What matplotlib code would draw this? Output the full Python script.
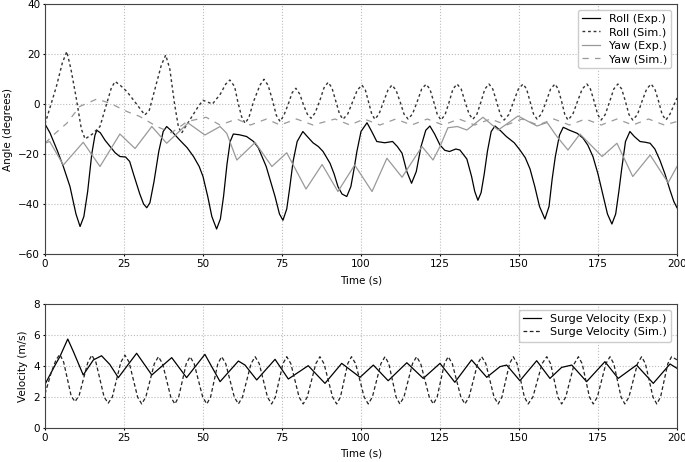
import numpy as np
import matplotlib
matplotlib.use("Agg")
import matplotlib.pyplot as plt

# Roll (Exp.)
t_roll_exp = [0, 1.6, 4, 5.8, 7.9, 9.8, 11.1, 12.3, 13.5, 14.8, 15.8, 16.4, 17.5, 19, 20.6, 22.2, 23.7, 25.5,
              26.8, 28, 30, 31.2, 32.2, 33.2, 34.5, 36, 37.4, 38.5, 39.8, 42.7, 45, 47, 48.8, 50, 51.5, 52.8,
              54.3, 55.5, 56.5, 57.6, 58.6, 59.6, 61.5, 63.8, 66, 67.5, 70, 72.8, 74.2, 75.3, 76.5, 77.5,
              78.5, 79.8, 81.6, 83, 84.8, 86.5, 88, 90.2, 91.5, 92.7, 94, 95.5, 96.8, 97.8, 98.7, 100,
              101.9, 103.4, 105, 107.5, 110, 111.5, 113, 114.5, 116, 117.5, 119, 120.5, 121.8, 123.3, 125,
              126.5, 128, 130, 131.3, 133.5, 135, 136, 137, 138, 139, 140, 141.2, 142.4, 144, 146, 148.5,
              150.3, 152, 153.5, 155, 156.5, 158.2, 159.5, 160.5, 161.5, 162.8, 164, 166, 168.4, 170.3,
              171.8, 173.4, 175, 176.5, 178, 179.4, 180.6, 181.6, 182.5, 183.7, 185.1, 186.5, 188.3, 190,
              191.5, 193, 194.6, 196.2, 197.8, 199, 200]
roll_exp = [-8, -11.6, -19, -25, -33, -44, -49, -45, -35, -20, -12.5, -10.5, -11.5, -14.5, -17, -19.5, -21, -21.2,
            -23, -28, -36, -40, -41.5, -39.5, -31, -19, -11, -9, -10.5, -14.5, -17.5, -21, -25, -29, -37, -45,
            -50, -46, -37, -24, -15, -12, -12.3, -13, -15, -17.5, -25, -37, -44, -46.5, -42, -33,
            -23, -15, -11, -13, -15.5, -17, -19, -23.7, -28, -33, -36, -37, -33, -26, -19, -11,
            -7.5, -11, -15, -15.5, -15, -17, -19.7, -27, -31.7, -27, -17, -10.5, -8.8, -12, -16.4,
            -18.5, -19, -18, -18.4, -22, -29, -35, -38.5, -35.5, -28, -19, -11, -8.8, -10.5, -13, -15.5,
            -18.4, -21.5, -26, -33, -41, -46, -41, -30, -21, -12.5, -9.3, -10.5, -11.7, -13.7,
            -16.5, -21, -28, -36, -44, -48, -44, -35, -26, -15, -11, -13, -15, -15.3,
            -15.7, -18, -22.5, -28, -34.5, -39, -41.5]

# Roll (Sim.)
t_roll_sim = [0, 3.6, 5.5, 6.9, 8.2, 9.8, 11.5, 12.7, 15, 17.4, 19.5, 21, 22.2, 23.8, 25.9, 28, 31.6, 33, 35,
              36.8, 38.2, 39.5, 41, 42.2, 43.2, 44.5, 46.5, 48.5, 50, 53, 55.5, 57.2, 58.5, 60, 61, 62.2,
              63.3, 64.5, 66, 68, 69.3, 70.6, 72, 73.2, 74.4, 75.6, 77, 78.2, 79.4, 80.6, 82, 83, 84.2,
              85.5, 87, 88.3, 89.6, 90.8, 92, 93.2, 94.3, 95.8, 97.3, 98.8, 100.3, 101.4, 102.4, 103.4,
              104.4, 105.7, 107.1, 108.5, 109.8, 111.1, 112.4, 113.6, 114.9, 116.3, 117.8, 119.2, 120.6,
              121.8, 123, 124.1, 125.3, 126.6, 127.9, 129.1, 130.4, 131.7, 132.9, 134.2, 135.4, 136.7,
              138, 139.2, 140.5, 141.7, 142.9, 144.1, 145.3, 146.8, 148.3, 149.8, 151.3, 152.4, 153.5,
              154.6, 155.7, 157.1, 158.6, 160, 161.4, 162.4, 163.5, 164.5, 165.5, 167, 168.5, 170, 171.5,
              172.6, 173.8, 174.9, 176, 177.3, 178.7, 180, 181.3, 182.5, 183.7, 184.8, 186, 187.5, 188.9,
              190.4, 191.8, 193, 194.2, 195.3, 196.5, 197.8, 199, 200]
roll_sim = [-8, 7, 16.5, 21, 14, 3, -10, -14, -12, -9, 0, 6.5, 9, 7.5, 5, 1.6, -4.4, -2.5, 7,
            15.5, 19.6, 14, 0, -9, -11.7, -9, -5, -1, 1.5, 0, 4, 8, 9.6, 7, 1, -5,
            -7.7, -5.5, 1, 7.5, 9.9, 7.5, 1.5, -4.5, -7, -4.5, 0, 4.5, 6.3, 4, -1, -4, -5.7,
            -3.5, 1.5, 6.5, 8.7, 6.5, 1.3, -4, -6.1, -4, 0.8, 5.5, 7.6, 5.5, 0.8, -4,
            -6.1, -4, 0.8, 5.5, 7.6, 5.5, 0.8, -4, -6, -4, 1, 6, 7.9,
            6, 1, -4, -6.4, -4.3, 0.8, 6, 8, 6, 1, -4, -6.1, -4,
            1, 6, 8, 6, 1, -4.2, -6.4, -4.2, 1, 6, 8, 6, 1,
            -4, -6, -4, 1, 6, 8, 6, 1, -4.2, -6.4, -4.2, 1, 6, 8,
            6, 1, -4.2, -6.4, -4.2, 1, 6, 8, 6, 1, -4.2, -6.4, -4.2, 1,
            6, 8, 6, 1, -4.2, -6.4, -4, -0.5, 2.4]

# Yaw (Exp.)
t_yaw_exp = [0, 1.5, 5.8, 12.1, 17.4, 23.7, 28.5, 33.8, 38.5, 45.3, 50.6, 55.4, 57.5, 60.7, 66.5, 71.8, 76.5,
             82.6, 87.7, 92.7, 98, 103.5, 108.2, 113, 119.3, 122.8, 125, 127.5, 130.5, 133.5, 138.6, 143.4,
             149.7, 155.7, 158.9, 162, 165.5, 169.3, 176.3, 181, 186, 191.5, 197.2, 200]
yaw_exp = [-15.7, -15, -24.4, -15.3, -25, -12, -17.8, -9, -15.7, -7.6, -12.4, -9, -11.7, -22.4, -15.4, -25, -19.5,
           -34, -24.2, -35, -24.4, -35, -21.7, -29.3, -17, -22.4, -17, -9.5, -9, -10.4, -5.3, -10.4,
           -4.8, -8.8, -7.4, -13, -18.4, -12, -21, -15.7, -29, -20.4, -31.5, -25]

# Yaw (Sim.)
t_yaw_sim = [0, 3, 6.9, 11, 16.4, 20.6, 25.9, 30, 35.4, 40, 45, 51, 55.4, 60.7, 65, 70.1, 74.4, 79.6, 84.8,
             91.8, 96.5, 101, 106, 111, 116, 121, 126, 131, 136, 141, 146, 151, 156, 161, 166, 171, 176,
             181, 186, 191, 196, 200]
yaw_sim = [-15.7, -12, -7.7, -1, 2, 0.3, -3, -5, -9, -11.5, -7, -5.3, -8.4, -6, -8.4, -6, -8.4, -6, -8.4,
           -6, -8.4, -6, -8.4, -6, -8.4, -6, -8.4, -6, -8.4, -6, -8.4, -6, -8.4, -6, -8.4, -6, -8.4,
           -6, -8.4, -6, -8.4, -7]

# Surge Velocity (Exp.)
t_surge_exp = [0, 3.2, 4.7, 7.2, 9, 12.1, 15.3, 17.9, 20.5, 23.2, 29, 33.8, 40.1, 44.8, 50.6, 55.4, 61.2, 63.3,
               67, 72.8, 77, 83.3, 88.6, 93.9, 99.7, 103.9, 108.6, 114.5, 119.7, 125, 129.7, 135, 139.8,
               144, 146.1, 150.3, 155.6, 159.8, 163.5, 166.7, 171.4, 177.2, 181.4, 187.2, 192.5, 197.8, 200]
surge_exp = [2.82, 4.06, 4.6, 5.74, 4.92, 3.42, 4.39, 4.66, 4.1, 3.25, 4.82, 3.42, 4.54, 3.25, 4.75, 2.99, 4.32, 4.06,
             3.1, 4.43, 3.16, 4.02, 2.88, 4.17, 3.27, 4.06, 3.05, 4.21, 3.2, 4.17, 2.95, 4.39, 3.27,
             3.96, 4.06, 3.05, 4.34, 3.2, 3.91, 4.06, 2.99, 4.28, 3.2, 4.06, 2.88, 4.13, 3.85]

# Surge Velocity (Sim.)
t_surge_sim = [0, 2, 3.5, 4.7, 5.9, 8.3, 9.5, 10.8, 13.5, 14.8, 16.1, 18.7, 20, 21.3, 24, 25.3, 26.6, 29.3,
               30.6, 31.9, 34.6, 35.9, 37.2, 39.8, 41.1, 42.3, 44.7, 45.9, 47.2, 49.9, 51.2, 52.4, 54.7,
               55.9, 57.2, 59.9, 61.2, 62.5, 65.2, 66.5, 67.8, 70.4, 71.7, 72.9, 75.3, 76.5, 77.8, 80.4,
               81.7, 83, 85.7, 87, 88.3, 91, 92.3, 93.5, 95.8, 97, 98.3, 101, 102.3, 103.6, 106.3, 107.6,
               108.8, 111.1, 112.3, 113.6, 116.3, 117.6, 118.9, 121.6, 122.9, 124.1, 126.4, 127.6, 128.9,
               131.6, 132.9, 134.2, 136.9, 138.2, 139.5, 142.1, 143.4, 144.6, 147, 148.2, 149.4, 151.7,
               152.9, 154.4, 157.3, 158.8, 160, 162.3, 163.5, 164.8, 167.5, 168.8, 170, 172.3, 173.5,
               174.8, 177.5, 178.8, 180, 182.3, 183.5, 184.8, 187.5, 188.8, 190, 192.4, 193.6, 194.8,
               197.1, 198.3, 200]
surge_sim = [2.2, 3.6, 4.4, 4.75, 4.25, 2.05, 1.7, 2.1, 4.2, 4.7, 4.25, 2.0, 1.6, 2.0, 4.25, 4.7, 4.25, 2.0,
             1.55, 2.0, 4.15, 4.6, 4.15, 2.0, 1.55, 2.0, 4.15, 4.6, 4.15, 2.0, 1.55, 2.0, 4.15,
             4.6, 4.15, 2.0, 1.55, 2.0, 4.15, 4.6, 4.15, 2.0, 1.55, 2.0, 4.15, 4.6, 4.15, 2.0,
             1.55, 2.0, 4.15, 4.6, 4.15, 2.0, 1.55, 2.0, 4.15, 4.6, 4.15, 2.0, 1.55, 2.0, 4.15, 4.6,
             4.15, 2.0, 1.55, 2.0, 4.15, 4.6, 4.15, 2.0, 1.55, 2.0, 4.15, 4.6, 4.15,
             2.0, 1.55, 2.0, 4.15, 4.6, 4.15, 2.0, 1.55, 2.0, 4.15, 4.6, 4.15, 2.0,
             1.55, 2.0, 4.15, 4.6, 4.15, 2.0, 1.55, 2.0, 4.15, 4.6, 4.15, 2.0, 1.55,
             2.0, 4.15, 4.6, 4.15, 2.0, 1.55, 2.0, 4.15, 4.6, 4.15, 2.0, 1.55, 2.0,
             4.15, 4.6, 4.4]

plt.rcParams['font.size'] = 7.5

fig = plt.figure(figsize=(6.85, 4.62), dpi=100)
ax1 = fig.add_axes([0.0657, 0.4502, 0.9226, 0.5411])
ax2 = fig.add_axes([0.0657, 0.0736, 0.9226, 0.2684])

ax1.plot(t_roll_exp, roll_exp, color='black', lw=0.9, label='Roll (Exp.)')
ax1.plot(t_roll_sim, roll_sim, color='#333333', lw=1.0, linestyle=(0, (2, 2)), label='Roll (Sim.)')
ax1.plot(t_yaw_exp, yaw_exp, color='#999999', lw=0.9, label='Yaw (Exp.)')
ax1.plot(t_yaw_sim, yaw_sim, color='#999999', lw=0.9, linestyle=(0, (5, 5)), label='Yaw (Sim.)')
ax1.set_xlim(0, 200)
ax1.set_ylim(-60, 40)
ax1.set_xticks(np.arange(0, 201, 25))
ax1.set_yticks(np.arange(-60, 41, 20))
ax1.set_xlabel('Time (s)', labelpad=5)
ax1.set_ylabel('Angle (degrees)')
ax1.grid(True, linestyle=':', color='#bbbbbb', lw=0.8)
ax1.legend(loc='upper right', fontsize=8, framealpha=1, labelspacing=0.3, handlelength=1.6)

ax2.plot(t_surge_exp, surge_exp, color='black', lw=0.9, label='Surge Velocity (Exp.)')
ax2.plot(t_surge_sim, surge_sim, color='#222222', lw=0.9, linestyle=(0, (3, 2)), label='Surge Velocity (Sim.)')
ax2.set_xlim(0, 200)
ax2.set_ylim(0, 8)
ax2.set_xticks(np.arange(0, 201, 25))
ax2.set_yticks(np.arange(0, 9, 2))
ax2.set_xlabel('Time (s)', labelpad=4)
ax2.set_ylabel('Velocity (m/s)')
ax2.grid(True, linestyle=':', color='#bbbbbb', lw=0.8)
ax2.legend(loc='upper right', fontsize=8, framealpha=1, labelspacing=0.3, handlelength=1.6)

for ax in (ax1, ax2):
    ax.tick_params(length=1.5, pad=2)
    for s in ax.spines.values():
        s.set_color('#444444')

fig.savefig('out.png', dpi=100)
